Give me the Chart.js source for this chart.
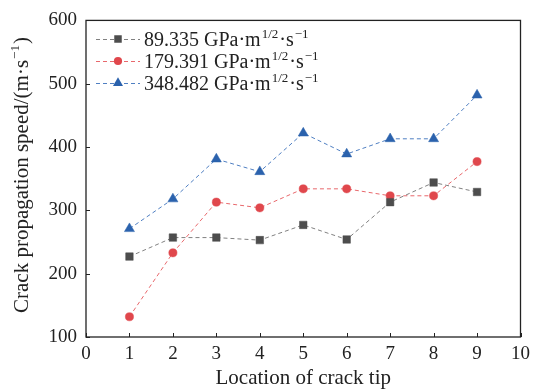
<!DOCTYPE html>
<html>
<head>
<meta charset="utf-8">
<style>
html,body{margin:0;padding:0;background:#fff;}
#wrap{width:536px;height:391px;position:relative;}
</style>
<script src="https://cdn.jsdelivr.net/npm/chart.js@4.4.0/dist/chart.umd.min.js"></script>
</head>
<body>
<div id="wrap"><canvas id="c" width="536" height="391"></canvas></div>
<script>
const locations = [1, 2, 3, 4, 5, 6, 7, 8, 9];
const series1 = [227, 257, 257, 253, 277, 254, 313, 344, 329];
const series2 = [132, 233, 313, 304, 334, 334, 323, 323, 377];
const series3 = [271, 318, 381, 361, 422, 389, 413, 413, 482];
const seriesNames = ["89.335 GPa·m", "179.391 GPa·m", "348.482 GPa·m"];
const supA = "1/2", midB = "·s", supC = "\u22121";
const xTicks = [0,1,2,3,4,5,6,7,8,9,10];
const yTicks = [100,200,300,400,500,600];
const xTitle = "Location of crack tip";
const yTitleMain = "Crack propagation speed/(m·s";
const yTitleSup = "\u22121";
const yTitleEnd = ")";

const FONT = "'Liberation Serif', 'Times New Roman', serif";
const styles = [
  {line:'#808080', fill:'#4d4d4d', shape:'rect', r:5.3},
  {line:'#e8686c', fill:'#e0474c', shape:'circle', r:4.1},
  {line:'#4f7fc2', fill:'#2b62ad', shape:'triangle', r:5.8}
];
const allSeries = [series1, series2, series3];

const datasets = allSeries.map((s, i) => ({
  label: seriesNames[i],
  data: locations.map((x, j) => ({x: x, y: s[j]})),
  borderColor: styles[i].line,
  borderWidth: 1,
  borderDash: [4, 3],
  pointStyle: styles[i].shape,
  pointRadius: styles[i].r,
  pointHoverRadius: styles[i].r,
  pointBackgroundColor: styles[i].fill,
  pointBorderColor: styles[i].fill,
  pointBorderWidth: 0.5,
  fill: false,
  tension: 0
}));

const framePlugin = {
  id: 'frame',
  afterDraw(chart) {
    const ctx = chart.ctx, a = chart.chartArea;
    const xs = chart.scales.x, ys = chart.scales.y;
    ctx.save();
    ctx.strokeStyle = '#222';
    ctx.lineWidth = 1.3;
    ctx.strokeRect(a.left, a.top, a.right - a.left, a.bottom - a.top);
    ctx.lineWidth = 1;
    ctx.beginPath();
    xTicks.forEach(v => {
      const px = Math.round(xs.getPixelForValue(v)) + 0.5;
      ctx.moveTo(px, a.bottom); ctx.lineTo(px, a.bottom - 4);
    });
    yTicks.forEach(v => {
      const py = Math.round(ys.getPixelForValue(v)) + 0.5;
      ctx.moveTo(a.left, py); ctx.lineTo(a.left + 4, py);
    });
    ctx.stroke();

    // legend
    ctx.textBaseline = 'alphabetic';
    const rows = [39, 61, 83];
    styles.forEach((st, i) => {
      const y = rows[i];
      ctx.save();
      ctx.strokeStyle = st.line;
      ctx.lineWidth = 1;
      ctx.setLineDash([4, 3]);
      ctx.beginPath();
      ctx.moveTo(96, y + 0.5); ctx.lineTo(140, y + 0.5);
      ctx.stroke();
      ctx.restore();
      ctx.save();
      ctx.fillStyle = st.fill;
      ctx.strokeStyle = st.fill;
      Chart.helpers.drawPoint(ctx, {pointStyle: st.shape, radius: st.r, borderWidth: 0}, 118, y);
      ctx.restore();
      ctx.fillStyle = '#222';
      let x = 144;
      const base = y + 7;
      ctx.font = '20px ' + FONT;
      ctx.fillText(seriesNames[i], x, base);
      x += ctx.measureText(seriesNames[i]).width + 1;
      ctx.font = '13px ' + FONT;
      ctx.fillText(supA, x, base - 8);
      x += ctx.measureText(supA).width + 1;
      ctx.font = '20px ' + FONT;
      ctx.fillText(midB, x, base);
      x += ctx.measureText(midB).width + 1;
      ctx.font = '13px ' + FONT;
      ctx.fillText(supC, x, base - 8);
    });

    // y title
    ctx.save();
    ctx.translate(28, 313);
    ctx.rotate(-Math.PI / 2);
    ctx.fillStyle = '#222';
    let tx = 0;
    ctx.font = '21px ' + FONT;
    ctx.fillText(yTitleMain, tx, 0);
    tx += ctx.measureText(yTitleMain).width + 1;
    ctx.font = '13px ' + FONT;
    ctx.fillText(yTitleSup, tx, -9);
    tx += ctx.measureText(yTitleSup).width + 1;
    ctx.font = '21px ' + FONT;
    ctx.fillText(yTitleEnd, tx, 0);
    ctx.restore();
    ctx.restore();
  }
};

new Chart(document.getElementById('c'), {
  type: 'line',
  data: { datasets },
  plugins: [framePlugin],
  options: {
    responsive: false,
    animation: false,
    devicePixelRatio: 1,
    layout: { padding: { top: 19, right: 13, left: 0, bottom: 0 } },
    plugins: { legend: { display: false }, tooltip: { enabled: false } },
    scales: {
      x: {
        type: 'linear', min: 0, max: 10,
        afterFit: s => { s.height = 54; },
        afterBuildTicks: s => { s.ticks = xTicks.map(v => ({value: v})); },
        grid: { display: false, drawTicks: false },
        border: { display: false },
        ticks: { color: '#222', padding: 6, font: { family: FONT, size: 19 }, maxRotation: 0 },
        title: { display: true, text: xTitle, color: '#222', font: { family: FONT, size: 21 }, padding: { top: 6, bottom: 0 } }
      },
      y: {
        type: 'linear', min: 100, max: 600,
        afterFit: s => { s.width = 86; },
        afterBuildTicks: s => { s.ticks = yTicks.map(v => ({value: v})); },
        grid: { display: false, drawTicks: false },
        border: { display: false },
        ticks: { color: '#222', padding: 9, font: { family: FONT, size: 19 } }
      }
    }
  }
});
</script>
</body>
</html>
